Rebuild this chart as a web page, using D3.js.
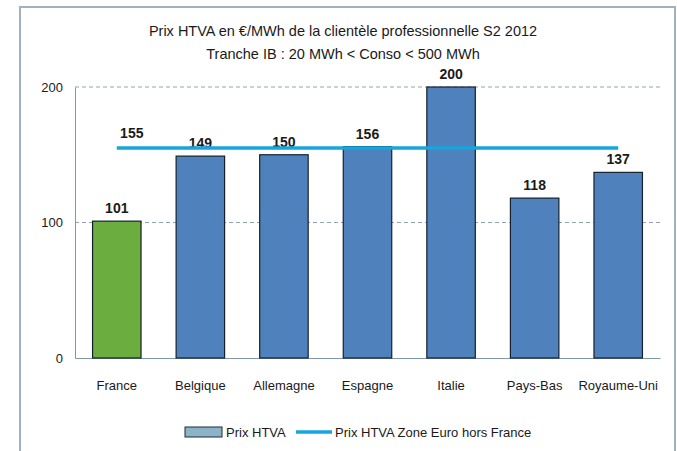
<!DOCTYPE html>
<html>
<head>
<meta charset="utf-8">
<script src="https://cdn.jsdelivr.net/npm/d3@7"></script>
<style>
  body { margin: 0; background: #fff; }
  text { font-family: "Liberation Sans Narrow", "Arial Narrow", "Liberation Sans", sans-serif; fill: #1a1a1a; }
</style>
</head>
<body>
<div class="canva"></div>
<script>
// data
const countries = ["France", "Belgique", "Allemagne", "Espagne", "Italie", "Pays-Bas", "Royaume-Uni"];
const prixHTVA = [101, 149, 150, 156, 200, 118, 137];
const zoneEuro = 155;
const yTicks = [0, 100, 200];
const titleLines = ["Prix HTVA en €/MWh de la clientèle professionnelle S2 2012",
                    "Tranche IB : 20 MWh < Conso < 500 MWh"];

const svg = d3.select(".canva").append("svg")
  .attr("width", 677)
  .attr("height", 451);

// outer frame (bottom runs off the picture)
svg.append("rect")
  .attr("x", 20).attr("y", 7)
  .attr("width", 655).attr("height", 460)
  .attr("fill", "#fff")
  .attr("stroke", "#9fb2bd")
  .attr("stroke-width", 2);

const margin = {top: 87, left: 75, right: 17, bottom: 93};
const graphWidth = 677 - margin.left - margin.right;
const graphHeight = 271;

const g = svg.append("g")
  .attr("transform", `translate(${margin.left}, ${margin.top})`);

const x = d3.scaleBand().domain(countries).range([0, graphWidth]).paddingInner(0.42).paddingOuter(0.21);
const y = d3.scaleLinear().domain([0, 200]).range([graphHeight, 0]);

// titles
svg.selectAll(".title").data(titleLines).enter().append("text")
  .attr("x", 343)
  .attr("y", (d, i) => 36 + i * 23)
  .attr("text-anchor", "middle")
  .attr("font-size", 14.5)
  .text(d => d);

// grid lines
g.selectAll(".grid").data(yTicks.filter(d => d > 0)).enter().append("line")
  .attr("x1", 0).attr("x2", graphWidth)
  .attr("y1", d => y(d)).attr("y2", d => y(d))
  .attr("stroke", "#8fa3b5")
  .attr("stroke-dasharray", "4,3")
  .attr("stroke-width", 1);

// y axis
const yAxis = g.append("g")
  .call(d3.axisLeft(y).tickValues(yTicks).tickSize(0).tickPadding(12));
yAxis.select(".domain").attr("stroke", "#7f98a6");
yAxis.selectAll("text").attr("font-size", 13).attr("fill", "#1a1a1a");

// x axis
const xAxis = g.append("g")
  .attr("transform", `translate(0, ${y(0)})`)
  .call(d3.axisBottom(x).tickSize(0).tickPadding(23));
xAxis.select(".domain").attr("stroke", "#7f98a6");
xAxis.selectAll("text").attr("font-size", 13).attr("fill", "#1a1a1a");

// bars
g.selectAll(".bar").data(prixHTVA).enter().append("rect")
  .attr("x", (d, i) => x(countries[i]))
  .attr("y", d => y(d))
  .attr("width", x.bandwidth())
  .attr("height", d => y(0) - y(d))
  .attr("fill", (d, i) => i === 0 ? "#6bad3f" : "#4f81bd")
  .attr("stroke", "#15202c")
  .attr("stroke-width", 1.2);

// bar labels
g.selectAll(".lbl").data(prixHTVA).enter().append("text")
  .attr("x", (d, i) => x(countries[i]) + x.bandwidth() / 2)
  .attr("y", d => y(d) - 8)
  .attr("text-anchor", "middle")
  .attr("font-size", 14)
  .attr("font-weight", "bold")
  .text(d => d);

// zone euro line
const lineData = countries.map(c => ({c, v: zoneEuro}));
g.append("path")
  .datum(lineData)
  .attr("fill", "none")
  .attr("stroke", "#17a5de")
  .attr("stroke-width", 3.5)
  .attr("d", d3.line().x(d => x(d.c) + x.bandwidth() / 2).y(d => y(d.v)));

g.append("text")
  .attr("x", x(countries[0]) + x.bandwidth() / 2 + 15)
  .attr("y", y(zoneEuro) - 10)
  .attr("text-anchor", "middle")
  .attr("font-size", 14)
  .attr("font-weight", "bold")
  .text(zoneEuro);

// legend
const legend = svg.append("g").attr("transform", "translate(185, 432)");
legend.append("rect")
  .attr("x", 0).attr("y", -5)
  .attr("width", 37).attr("height", 10)
  .attr("fill", "#8db3c7")
  .attr("stroke", "#1c2a3a");
legend.append("text")
  .attr("x", 41).attr("y", 5)
  .attr("font-size", 13)
  .text("Prix HTVA");
legend.append("line")
  .attr("x1", 111).attr("x2", 147)
  .attr("y1", 0).attr("y2", 0)
  .attr("stroke", "#17a5de")
  .attr("stroke-width", 3.5);
legend.append("text")
  .attr("x", 150).attr("y", 5)
  .attr("font-size", 13)
  .text("Prix HTVA Zone Euro hors France");
</script>
</body>
</html>
